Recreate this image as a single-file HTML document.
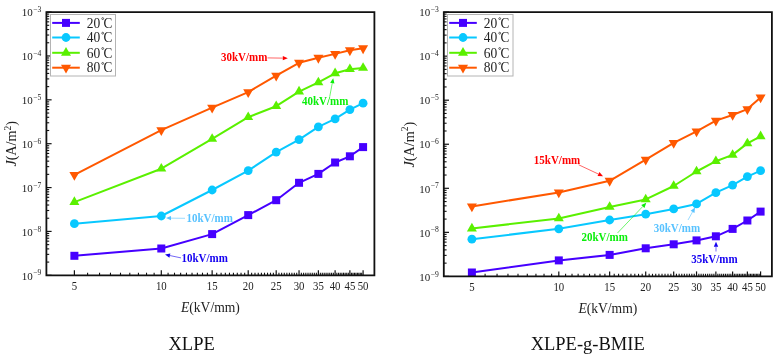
<!DOCTYPE html>
<html><head><meta charset="utf-8"><style>
html,body{margin:0;padding:0;background:#fff;}
svg{display:block;will-change:transform;font-family:"Liberation Serif",serif;}
</style></head><body>
<svg width="778" height="358" viewBox="0 0 778 358">
<rect width="778" height="358" fill="#fff"/>
<line x1="46.40" y1="275.30" x2="51.60" y2="275.30" stroke="#111" stroke-width="1.2"/>
<line x1="46.40" y1="262.09" x2="49.20" y2="262.09" stroke="#111" stroke-width="1.1"/>
<line x1="46.40" y1="254.37" x2="49.20" y2="254.37" stroke="#111" stroke-width="1.1"/>
<line x1="46.40" y1="248.89" x2="49.20" y2="248.89" stroke="#111" stroke-width="1.1"/>
<line x1="46.40" y1="244.64" x2="49.20" y2="244.64" stroke="#111" stroke-width="1.1"/>
<line x1="46.40" y1="241.17" x2="49.20" y2="241.17" stroke="#111" stroke-width="1.1"/>
<line x1="46.40" y1="238.23" x2="49.20" y2="238.23" stroke="#111" stroke-width="1.1"/>
<line x1="46.40" y1="235.68" x2="49.20" y2="235.68" stroke="#111" stroke-width="1.1"/>
<line x1="46.40" y1="233.44" x2="49.20" y2="233.44" stroke="#111" stroke-width="1.1"/>
<text x="32.70" y="279.50" font-size="11" text-anchor="end" fill="#222">10</text>
<text x="33.20" y="275.40" font-size="7.6" fill="#222">−9</text>
<line x1="46.40" y1="231.43" x2="51.60" y2="231.43" stroke="#111" stroke-width="1.2"/>
<line x1="46.40" y1="218.23" x2="49.20" y2="218.23" stroke="#111" stroke-width="1.1"/>
<line x1="46.40" y1="210.50" x2="49.20" y2="210.50" stroke="#111" stroke-width="1.1"/>
<line x1="46.40" y1="205.02" x2="49.20" y2="205.02" stroke="#111" stroke-width="1.1"/>
<line x1="46.40" y1="200.77" x2="49.20" y2="200.77" stroke="#111" stroke-width="1.1"/>
<line x1="46.40" y1="197.30" x2="49.20" y2="197.30" stroke="#111" stroke-width="1.1"/>
<line x1="46.40" y1="194.36" x2="49.20" y2="194.36" stroke="#111" stroke-width="1.1"/>
<line x1="46.40" y1="191.82" x2="49.20" y2="191.82" stroke="#111" stroke-width="1.1"/>
<line x1="46.40" y1="189.57" x2="49.20" y2="189.57" stroke="#111" stroke-width="1.1"/>
<text x="32.70" y="235.63" font-size="11" text-anchor="end" fill="#222">10</text>
<text x="33.20" y="231.53" font-size="7.6" fill="#222">−8</text>
<line x1="46.40" y1="187.57" x2="51.60" y2="187.57" stroke="#111" stroke-width="1.2"/>
<line x1="46.40" y1="174.36" x2="49.20" y2="174.36" stroke="#111" stroke-width="1.1"/>
<line x1="46.40" y1="166.64" x2="49.20" y2="166.64" stroke="#111" stroke-width="1.1"/>
<line x1="46.40" y1="161.16" x2="49.20" y2="161.16" stroke="#111" stroke-width="1.1"/>
<line x1="46.40" y1="156.91" x2="49.20" y2="156.91" stroke="#111" stroke-width="1.1"/>
<line x1="46.40" y1="153.43" x2="49.20" y2="153.43" stroke="#111" stroke-width="1.1"/>
<line x1="46.40" y1="150.50" x2="49.20" y2="150.50" stroke="#111" stroke-width="1.1"/>
<line x1="46.40" y1="147.95" x2="49.20" y2="147.95" stroke="#111" stroke-width="1.1"/>
<line x1="46.40" y1="145.71" x2="49.20" y2="145.71" stroke="#111" stroke-width="1.1"/>
<text x="32.70" y="191.77" font-size="11" text-anchor="end" fill="#222">10</text>
<text x="33.20" y="187.67" font-size="7.6" fill="#222">−7</text>
<line x1="46.40" y1="143.70" x2="51.60" y2="143.70" stroke="#111" stroke-width="1.2"/>
<line x1="46.40" y1="130.49" x2="49.20" y2="130.49" stroke="#111" stroke-width="1.1"/>
<line x1="46.40" y1="122.77" x2="49.20" y2="122.77" stroke="#111" stroke-width="1.1"/>
<line x1="46.40" y1="117.29" x2="49.20" y2="117.29" stroke="#111" stroke-width="1.1"/>
<line x1="46.40" y1="113.04" x2="49.20" y2="113.04" stroke="#111" stroke-width="1.1"/>
<line x1="46.40" y1="109.57" x2="49.20" y2="109.57" stroke="#111" stroke-width="1.1"/>
<line x1="46.40" y1="106.63" x2="49.20" y2="106.63" stroke="#111" stroke-width="1.1"/>
<line x1="46.40" y1="104.08" x2="49.20" y2="104.08" stroke="#111" stroke-width="1.1"/>
<line x1="46.40" y1="101.84" x2="49.20" y2="101.84" stroke="#111" stroke-width="1.1"/>
<text x="32.70" y="147.90" font-size="11" text-anchor="end" fill="#222">10</text>
<text x="33.20" y="143.80" font-size="7.6" fill="#222">−6</text>
<line x1="46.40" y1="99.83" x2="51.60" y2="99.83" stroke="#111" stroke-width="1.2"/>
<line x1="46.40" y1="86.63" x2="49.20" y2="86.63" stroke="#111" stroke-width="1.1"/>
<line x1="46.40" y1="78.90" x2="49.20" y2="78.90" stroke="#111" stroke-width="1.1"/>
<line x1="46.40" y1="73.42" x2="49.20" y2="73.42" stroke="#111" stroke-width="1.1"/>
<line x1="46.40" y1="69.17" x2="49.20" y2="69.17" stroke="#111" stroke-width="1.1"/>
<line x1="46.40" y1="65.70" x2="49.20" y2="65.70" stroke="#111" stroke-width="1.1"/>
<line x1="46.40" y1="62.76" x2="49.20" y2="62.76" stroke="#111" stroke-width="1.1"/>
<line x1="46.40" y1="60.22" x2="49.20" y2="60.22" stroke="#111" stroke-width="1.1"/>
<line x1="46.40" y1="57.97" x2="49.20" y2="57.97" stroke="#111" stroke-width="1.1"/>
<text x="32.70" y="104.03" font-size="11" text-anchor="end" fill="#222">10</text>
<text x="33.20" y="99.93" font-size="7.6" fill="#222">−5</text>
<line x1="46.40" y1="55.97" x2="51.60" y2="55.97" stroke="#111" stroke-width="1.2"/>
<line x1="46.40" y1="42.76" x2="49.20" y2="42.76" stroke="#111" stroke-width="1.1"/>
<line x1="46.40" y1="35.04" x2="49.20" y2="35.04" stroke="#111" stroke-width="1.1"/>
<line x1="46.40" y1="29.56" x2="49.20" y2="29.56" stroke="#111" stroke-width="1.1"/>
<line x1="46.40" y1="25.31" x2="49.20" y2="25.31" stroke="#111" stroke-width="1.1"/>
<line x1="46.40" y1="21.83" x2="49.20" y2="21.83" stroke="#111" stroke-width="1.1"/>
<line x1="46.40" y1="18.90" x2="49.20" y2="18.90" stroke="#111" stroke-width="1.1"/>
<line x1="46.40" y1="16.35" x2="49.20" y2="16.35" stroke="#111" stroke-width="1.1"/>
<line x1="46.40" y1="14.11" x2="49.20" y2="14.11" stroke="#111" stroke-width="1.1"/>
<text x="32.70" y="60.17" font-size="11" text-anchor="end" fill="#222">10</text>
<text x="33.20" y="56.07" font-size="7.6" fill="#222">−4</text>
<line x1="46.40" y1="12.10" x2="51.60" y2="12.10" stroke="#111" stroke-width="1.2"/>
<text x="32.70" y="16.30" font-size="11" text-anchor="end" fill="#222">10</text>
<text x="33.20" y="12.20" font-size="7.6" fill="#222">−3</text>
<line x1="74.39" y1="275.30" x2="74.39" y2="270.30" stroke="#111" stroke-width="1.2"/>
<text transform="translate(74.39,289.90) scale(1,1.12)" font-size="10.8" text-anchor="middle" fill="#222">5</text>
<line x1="87.60" y1="275.30" x2="87.60" y2="272.70" stroke="#111" stroke-width="1.1"/>
<line x1="99.55" y1="275.30" x2="99.55" y2="272.70" stroke="#111" stroke-width="1.1"/>
<line x1="110.46" y1="275.30" x2="110.46" y2="272.70" stroke="#111" stroke-width="1.1"/>
<line x1="120.50" y1="275.30" x2="120.50" y2="272.70" stroke="#111" stroke-width="1.1"/>
<line x1="129.79" y1="275.30" x2="129.79" y2="272.70" stroke="#111" stroke-width="1.1"/>
<line x1="138.44" y1="275.30" x2="138.44" y2="272.70" stroke="#111" stroke-width="1.1"/>
<line x1="146.53" y1="275.30" x2="146.53" y2="272.70" stroke="#111" stroke-width="1.1"/>
<line x1="154.13" y1="275.30" x2="154.13" y2="272.70" stroke="#111" stroke-width="1.1"/>
<line x1="161.30" y1="275.30" x2="161.30" y2="270.30" stroke="#111" stroke-width="1.2"/>
<text transform="translate(161.30,289.90) scale(1,1.12)" font-size="10.8" text-anchor="middle" fill="#222">10</text>
<line x1="168.08" y1="275.30" x2="168.08" y2="272.70" stroke="#111" stroke-width="1.1"/>
<line x1="174.51" y1="275.30" x2="174.51" y2="272.70" stroke="#111" stroke-width="1.1"/>
<line x1="180.63" y1="275.30" x2="180.63" y2="272.70" stroke="#111" stroke-width="1.1"/>
<line x1="186.46" y1="275.30" x2="186.46" y2="272.70" stroke="#111" stroke-width="1.1"/>
<line x1="192.03" y1="275.30" x2="192.03" y2="272.70" stroke="#111" stroke-width="1.1"/>
<line x1="197.37" y1="275.30" x2="197.37" y2="272.70" stroke="#111" stroke-width="1.1"/>
<line x1="202.49" y1="275.30" x2="202.49" y2="272.70" stroke="#111" stroke-width="1.1"/>
<line x1="207.41" y1="275.30" x2="207.41" y2="272.70" stroke="#111" stroke-width="1.1"/>
<line x1="212.14" y1="275.30" x2="212.14" y2="270.30" stroke="#111" stroke-width="1.2"/>
<text transform="translate(212.14,289.90) scale(1,1.12)" font-size="10.8" text-anchor="middle" fill="#222">15</text>
<line x1="216.70" y1="275.30" x2="216.70" y2="272.70" stroke="#111" stroke-width="1.1"/>
<line x1="221.10" y1="275.30" x2="221.10" y2="272.70" stroke="#111" stroke-width="1.1"/>
<line x1="225.35" y1="275.30" x2="225.35" y2="272.70" stroke="#111" stroke-width="1.1"/>
<line x1="229.46" y1="275.30" x2="229.46" y2="272.70" stroke="#111" stroke-width="1.1"/>
<line x1="233.44" y1="275.30" x2="233.44" y2="272.70" stroke="#111" stroke-width="1.1"/>
<line x1="237.30" y1="275.30" x2="237.30" y2="272.70" stroke="#111" stroke-width="1.1"/>
<line x1="241.04" y1="275.30" x2="241.04" y2="272.70" stroke="#111" stroke-width="1.1"/>
<line x1="244.68" y1="275.30" x2="244.68" y2="272.70" stroke="#111" stroke-width="1.1"/>
<line x1="248.21" y1="275.30" x2="248.21" y2="270.30" stroke="#111" stroke-width="1.2"/>
<text transform="translate(248.21,289.90) scale(1,1.12)" font-size="10.8" text-anchor="middle" fill="#222">20</text>
<line x1="251.64" y1="275.30" x2="251.64" y2="272.70" stroke="#111" stroke-width="1.1"/>
<line x1="254.99" y1="275.30" x2="254.99" y2="272.70" stroke="#111" stroke-width="1.1"/>
<line x1="258.24" y1="275.30" x2="258.24" y2="272.70" stroke="#111" stroke-width="1.1"/>
<line x1="261.42" y1="275.30" x2="261.42" y2="272.70" stroke="#111" stroke-width="1.1"/>
<line x1="264.51" y1="275.30" x2="264.51" y2="272.70" stroke="#111" stroke-width="1.1"/>
<line x1="267.53" y1="275.30" x2="267.53" y2="272.70" stroke="#111" stroke-width="1.1"/>
<line x1="270.49" y1="275.30" x2="270.49" y2="272.70" stroke="#111" stroke-width="1.1"/>
<line x1="273.37" y1="275.30" x2="273.37" y2="272.70" stroke="#111" stroke-width="1.1"/>
<line x1="276.19" y1="275.30" x2="276.19" y2="270.30" stroke="#111" stroke-width="1.2"/>
<text transform="translate(276.19,289.90) scale(1,1.12)" font-size="10.8" text-anchor="middle" fill="#222">25</text>
<line x1="278.94" y1="275.30" x2="278.94" y2="272.70" stroke="#111" stroke-width="1.1"/>
<line x1="281.64" y1="275.30" x2="281.64" y2="272.70" stroke="#111" stroke-width="1.1"/>
<line x1="284.28" y1="275.30" x2="284.28" y2="272.70" stroke="#111" stroke-width="1.1"/>
<line x1="286.86" y1="275.30" x2="286.86" y2="272.70" stroke="#111" stroke-width="1.1"/>
<line x1="289.40" y1="275.30" x2="289.40" y2="272.70" stroke="#111" stroke-width="1.1"/>
<line x1="291.88" y1="275.30" x2="291.88" y2="272.70" stroke="#111" stroke-width="1.1"/>
<line x1="294.31" y1="275.30" x2="294.31" y2="272.70" stroke="#111" stroke-width="1.1"/>
<line x1="296.70" y1="275.30" x2="296.70" y2="272.70" stroke="#111" stroke-width="1.1"/>
<line x1="299.04" y1="275.30" x2="299.04" y2="270.30" stroke="#111" stroke-width="1.2"/>
<text transform="translate(299.04,289.90) scale(1,1.12)" font-size="10.8" text-anchor="middle" fill="#222">30</text>
<line x1="301.35" y1="275.30" x2="301.35" y2="272.70" stroke="#111" stroke-width="1.1"/>
<line x1="303.60" y1="275.30" x2="303.60" y2="272.70" stroke="#111" stroke-width="1.1"/>
<line x1="305.82" y1="275.30" x2="305.82" y2="272.70" stroke="#111" stroke-width="1.1"/>
<line x1="308.00" y1="275.30" x2="308.00" y2="272.70" stroke="#111" stroke-width="1.1"/>
<line x1="310.15" y1="275.30" x2="310.15" y2="272.70" stroke="#111" stroke-width="1.1"/>
<line x1="312.26" y1="275.30" x2="312.26" y2="272.70" stroke="#111" stroke-width="1.1"/>
<line x1="314.33" y1="275.30" x2="314.33" y2="272.70" stroke="#111" stroke-width="1.1"/>
<line x1="316.37" y1="275.30" x2="316.37" y2="272.70" stroke="#111" stroke-width="1.1"/>
<line x1="318.37" y1="275.30" x2="318.37" y2="270.30" stroke="#111" stroke-width="1.2"/>
<text transform="translate(318.37,289.90) scale(1,1.12)" font-size="10.8" text-anchor="middle" fill="#222">35</text>
<line x1="320.35" y1="275.30" x2="320.35" y2="272.70" stroke="#111" stroke-width="1.1"/>
<line x1="322.29" y1="275.30" x2="322.29" y2="272.70" stroke="#111" stroke-width="1.1"/>
<line x1="324.21" y1="275.30" x2="324.21" y2="272.70" stroke="#111" stroke-width="1.1"/>
<line x1="326.09" y1="275.30" x2="326.09" y2="272.70" stroke="#111" stroke-width="1.1"/>
<line x1="327.95" y1="275.30" x2="327.95" y2="272.70" stroke="#111" stroke-width="1.1"/>
<line x1="329.78" y1="275.30" x2="329.78" y2="272.70" stroke="#111" stroke-width="1.1"/>
<line x1="331.58" y1="275.30" x2="331.58" y2="272.70" stroke="#111" stroke-width="1.1"/>
<line x1="333.36" y1="275.30" x2="333.36" y2="272.70" stroke="#111" stroke-width="1.1"/>
<line x1="335.11" y1="275.30" x2="335.11" y2="270.30" stroke="#111" stroke-width="1.2"/>
<text transform="translate(335.11,289.90) scale(1,1.12)" font-size="10.8" text-anchor="middle" fill="#222">40</text>
<line x1="336.84" y1="275.30" x2="336.84" y2="272.70" stroke="#111" stroke-width="1.1"/>
<line x1="338.55" y1="275.30" x2="338.55" y2="272.70" stroke="#111" stroke-width="1.1"/>
<line x1="340.23" y1="275.30" x2="340.23" y2="272.70" stroke="#111" stroke-width="1.1"/>
<line x1="341.89" y1="275.30" x2="341.89" y2="272.70" stroke="#111" stroke-width="1.1"/>
<line x1="343.53" y1="275.30" x2="343.53" y2="272.70" stroke="#111" stroke-width="1.1"/>
<line x1="345.15" y1="275.30" x2="345.15" y2="272.70" stroke="#111" stroke-width="1.1"/>
<line x1="346.75" y1="275.30" x2="346.75" y2="272.70" stroke="#111" stroke-width="1.1"/>
<line x1="348.32" y1="275.30" x2="348.32" y2="272.70" stroke="#111" stroke-width="1.1"/>
<line x1="349.88" y1="275.30" x2="349.88" y2="270.30" stroke="#111" stroke-width="1.2"/>
<text transform="translate(349.88,289.90) scale(1,1.12)" font-size="10.8" text-anchor="middle" fill="#222">45</text>
<line x1="351.42" y1="275.30" x2="351.42" y2="272.70" stroke="#111" stroke-width="1.1"/>
<line x1="352.94" y1="275.30" x2="352.94" y2="272.70" stroke="#111" stroke-width="1.1"/>
<line x1="354.44" y1="275.30" x2="354.44" y2="272.70" stroke="#111" stroke-width="1.1"/>
<line x1="355.93" y1="275.30" x2="355.93" y2="272.70" stroke="#111" stroke-width="1.1"/>
<line x1="357.39" y1="275.30" x2="357.39" y2="272.70" stroke="#111" stroke-width="1.1"/>
<line x1="358.84" y1="275.30" x2="358.84" y2="272.70" stroke="#111" stroke-width="1.1"/>
<line x1="360.27" y1="275.30" x2="360.27" y2="272.70" stroke="#111" stroke-width="1.1"/>
<line x1="361.69" y1="275.30" x2="361.69" y2="272.70" stroke="#111" stroke-width="1.1"/>
<line x1="363.09" y1="275.30" x2="363.09" y2="270.30" stroke="#111" stroke-width="1.2"/>
<text transform="translate(363.09,289.90) scale(1,1.12)" font-size="10.8" text-anchor="middle" fill="#222">50</text>
<polyline points="74.39,174.90 161.30,130.10 212.14,107.60 248.21,92.10 276.19,75.70 299.04,62.80 318.37,57.80 335.11,53.90 349.88,50.30 363.09,48.30" fill="none" stroke="#ff5800" stroke-width="2" stroke-linejoin="round"/>
<polyline points="74.39,202.10 161.30,168.70 212.14,138.90 248.21,117.20 276.19,106.20 299.04,91.60 318.37,82.40 335.11,73.30 349.88,69.20 363.09,67.90" fill="none" stroke="#5af000" stroke-width="2" stroke-linejoin="round"/>
<polyline points="74.39,223.70 161.30,216.00 212.14,190.00 248.21,170.60 276.19,152.10 299.04,139.60 318.37,126.80 335.11,118.90 349.88,109.60 363.09,103.20" fill="none" stroke="#08c8ff" stroke-width="2" stroke-linejoin="round"/>
<polyline points="74.39,255.80 161.30,248.50 212.14,234.10 248.21,215.10 276.19,200.20 299.04,182.80 318.37,173.90 335.11,162.50 349.88,156.30 363.09,147.10" fill="none" stroke="#4600ff" stroke-width="2" stroke-linejoin="round"/>
<polygon points="69.39,171.97 79.39,171.97 74.39,180.77" fill="#ff5800"/>
<polygon points="156.30,127.17 166.30,127.17 161.30,135.97" fill="#ff5800"/>
<polygon points="207.14,104.67 217.14,104.67 212.14,113.47" fill="#ff5800"/>
<polygon points="243.21,89.17 253.21,89.17 248.21,97.97" fill="#ff5800"/>
<polygon points="271.19,72.77 281.19,72.77 276.19,81.57" fill="#ff5800"/>
<polygon points="294.04,59.87 304.04,59.87 299.04,68.67" fill="#ff5800"/>
<polygon points="313.37,54.87 323.37,54.87 318.37,63.67" fill="#ff5800"/>
<polygon points="330.11,50.97 340.11,50.97 335.11,59.77" fill="#ff5800"/>
<polygon points="344.88,47.37 354.88,47.37 349.88,56.17" fill="#ff5800"/>
<polygon points="358.09,45.37 368.09,45.37 363.09,54.17" fill="#ff5800"/>
<polygon points="74.39,196.37 79.39,204.97 69.39,204.97" fill="#5af000"/>
<polygon points="161.30,162.97 166.30,171.57 156.30,171.57" fill="#5af000"/>
<polygon points="212.14,133.17 217.14,141.77 207.14,141.77" fill="#5af000"/>
<polygon points="248.21,111.47 253.21,120.07 243.21,120.07" fill="#5af000"/>
<polygon points="276.19,100.47 281.19,109.07 271.19,109.07" fill="#5af000"/>
<polygon points="299.04,85.87 304.04,94.47 294.04,94.47" fill="#5af000"/>
<polygon points="318.37,76.67 323.37,85.27 313.37,85.27" fill="#5af000"/>
<polygon points="335.11,67.57 340.11,76.17 330.11,76.17" fill="#5af000"/>
<polygon points="349.88,63.47 354.88,72.07 344.88,72.07" fill="#5af000"/>
<polygon points="363.09,62.17 368.09,70.77 358.09,70.77" fill="#5af000"/>
<circle cx="74.39" cy="223.70" r="4.4" fill="#08c8ff"/>
<circle cx="161.30" cy="216.00" r="4.4" fill="#08c8ff"/>
<circle cx="212.14" cy="190.00" r="4.4" fill="#08c8ff"/>
<circle cx="248.21" cy="170.60" r="4.4" fill="#08c8ff"/>
<circle cx="276.19" cy="152.10" r="4.4" fill="#08c8ff"/>
<circle cx="299.04" cy="139.60" r="4.4" fill="#08c8ff"/>
<circle cx="318.37" cy="126.80" r="4.4" fill="#08c8ff"/>
<circle cx="335.11" cy="118.90" r="4.4" fill="#08c8ff"/>
<circle cx="349.88" cy="109.60" r="4.4" fill="#08c8ff"/>
<circle cx="363.09" cy="103.20" r="4.4" fill="#08c8ff"/>
<rect x="70.39" y="251.80" width="8" height="8" fill="#4600ff"/>
<rect x="157.30" y="244.50" width="8" height="8" fill="#4600ff"/>
<rect x="208.14" y="230.10" width="8" height="8" fill="#4600ff"/>
<rect x="244.21" y="211.10" width="8" height="8" fill="#4600ff"/>
<rect x="272.19" y="196.20" width="8" height="8" fill="#4600ff"/>
<rect x="295.04" y="178.80" width="8" height="8" fill="#4600ff"/>
<rect x="314.37" y="169.90" width="8" height="8" fill="#4600ff"/>
<rect x="331.11" y="158.50" width="8" height="8" fill="#4600ff"/>
<rect x="345.88" y="152.30" width="8" height="8" fill="#4600ff"/>
<rect x="359.09" y="143.10" width="8" height="8" fill="#4600ff"/>
<rect x="50.50" y="14.50" width="65.00" height="61.50" fill="#fff" stroke="#b4b4b4" stroke-width="1"/>
<line x1="52.20" y1="22.90" x2="79.80" y2="22.90" stroke="#4600ff" stroke-width="2"/>
<rect x="62.00" y="18.90" width="8" height="8" fill="#4600ff"/>
<text transform="translate(86.70,27.60) scale(1,1.08)" font-size="13.5" fill="#222">20</text>
<circle cx="102.70" cy="18.60" r="0.95" fill="none" stroke="#222" stroke-width="0.7"/>
<text x="103.60" y="27.60" font-size="15.5" textLength="8.8" lengthAdjust="spacingAndGlyphs" fill="#222">C</text>
<line x1="52.20" y1="37.50" x2="79.80" y2="37.50" stroke="#08c8ff" stroke-width="2"/>
<circle cx="66.00" cy="37.50" r="4.4" fill="#08c8ff"/>
<text transform="translate(86.70,42.20) scale(1,1.08)" font-size="13.5" fill="#222">40</text>
<circle cx="102.70" cy="33.20" r="0.95" fill="none" stroke="#222" stroke-width="0.7"/>
<text x="103.60" y="42.20" font-size="15.5" textLength="8.8" lengthAdjust="spacingAndGlyphs" fill="#222">C</text>
<line x1="52.20" y1="52.80" x2="79.80" y2="52.80" stroke="#5af000" stroke-width="2"/>
<polygon points="66.00,47.07 71.00,55.67 61.00,55.67" fill="#5af000"/>
<text transform="translate(86.70,57.50) scale(1,1.08)" font-size="13.5" fill="#222">60</text>
<circle cx="102.70" cy="48.50" r="0.95" fill="none" stroke="#222" stroke-width="0.7"/>
<text x="103.60" y="57.50" font-size="15.5" textLength="8.8" lengthAdjust="spacingAndGlyphs" fill="#222">C</text>
<line x1="52.20" y1="67.70" x2="79.80" y2="67.70" stroke="#ff5800" stroke-width="2"/>
<polygon points="61.00,64.77 71.00,64.77 66.00,73.57" fill="#ff5800"/>
<text transform="translate(86.70,72.40) scale(1,1.08)" font-size="13.5" fill="#222">80</text>
<circle cx="102.70" cy="63.40" r="0.95" fill="none" stroke="#222" stroke-width="0.7"/>
<text x="103.60" y="72.40" font-size="15.5" textLength="8.8" lengthAdjust="spacingAndGlyphs" fill="#222">C</text>
<path d="M46.40,275.30 V12.10 H374.40 V275.30 Z" fill="none" stroke="#111" stroke-width="1.8"/>
<text x="210.40" y="312.30" font-size="13.6" text-anchor="middle" fill="#222"><tspan font-style="italic">E</tspan>(kV/mm)</text>
<text transform="translate(16.30,166.60) rotate(-90)" font-size="14.2" textLength="45.5" lengthAdjust="spacingAndGlyphs" fill="#222"><tspan font-style="italic">J</tspan>(A/m<tspan font-size="9.5" dy="-5.5">2</tspan><tspan dy="5.5">)</tspan></text>
<text x="191.60" y="349.8" font-size="18.5" text-anchor="middle" fill="#111">XLPE</text>
<line x1="443.80" y1="276.40" x2="449.00" y2="276.40" stroke="#111" stroke-width="1.2"/>
<line x1="443.80" y1="263.14" x2="446.60" y2="263.14" stroke="#111" stroke-width="1.1"/>
<line x1="443.80" y1="255.38" x2="446.60" y2="255.38" stroke="#111" stroke-width="1.1"/>
<line x1="443.80" y1="249.88" x2="446.60" y2="249.88" stroke="#111" stroke-width="1.1"/>
<line x1="443.80" y1="245.61" x2="446.60" y2="245.61" stroke="#111" stroke-width="1.1"/>
<line x1="443.80" y1="242.12" x2="446.60" y2="242.12" stroke="#111" stroke-width="1.1"/>
<line x1="443.80" y1="239.17" x2="446.60" y2="239.17" stroke="#111" stroke-width="1.1"/>
<line x1="443.80" y1="236.62" x2="446.60" y2="236.62" stroke="#111" stroke-width="1.1"/>
<line x1="443.80" y1="234.37" x2="446.60" y2="234.37" stroke="#111" stroke-width="1.1"/>
<text x="430.20" y="280.60" font-size="11" text-anchor="end" fill="#222">10</text>
<text x="430.70" y="276.50" font-size="7.6" fill="#222">−9</text>
<line x1="443.80" y1="232.35" x2="449.00" y2="232.35" stroke="#111" stroke-width="1.2"/>
<line x1="443.80" y1="219.09" x2="446.60" y2="219.09" stroke="#111" stroke-width="1.1"/>
<line x1="443.80" y1="211.33" x2="446.60" y2="211.33" stroke="#111" stroke-width="1.1"/>
<line x1="443.80" y1="205.83" x2="446.60" y2="205.83" stroke="#111" stroke-width="1.1"/>
<line x1="443.80" y1="201.56" x2="446.60" y2="201.56" stroke="#111" stroke-width="1.1"/>
<line x1="443.80" y1="198.07" x2="446.60" y2="198.07" stroke="#111" stroke-width="1.1"/>
<line x1="443.80" y1="195.12" x2="446.60" y2="195.12" stroke="#111" stroke-width="1.1"/>
<line x1="443.80" y1="192.57" x2="446.60" y2="192.57" stroke="#111" stroke-width="1.1"/>
<line x1="443.80" y1="190.32" x2="446.60" y2="190.32" stroke="#111" stroke-width="1.1"/>
<text x="430.20" y="236.55" font-size="11" text-anchor="end" fill="#222">10</text>
<text x="430.70" y="232.45" font-size="7.6" fill="#222">−8</text>
<line x1="443.80" y1="188.30" x2="449.00" y2="188.30" stroke="#111" stroke-width="1.2"/>
<line x1="443.80" y1="175.04" x2="446.60" y2="175.04" stroke="#111" stroke-width="1.1"/>
<line x1="443.80" y1="167.28" x2="446.60" y2="167.28" stroke="#111" stroke-width="1.1"/>
<line x1="443.80" y1="161.78" x2="446.60" y2="161.78" stroke="#111" stroke-width="1.1"/>
<line x1="443.80" y1="157.51" x2="446.60" y2="157.51" stroke="#111" stroke-width="1.1"/>
<line x1="443.80" y1="154.02" x2="446.60" y2="154.02" stroke="#111" stroke-width="1.1"/>
<line x1="443.80" y1="151.07" x2="446.60" y2="151.07" stroke="#111" stroke-width="1.1"/>
<line x1="443.80" y1="148.52" x2="446.60" y2="148.52" stroke="#111" stroke-width="1.1"/>
<line x1="443.80" y1="146.27" x2="446.60" y2="146.27" stroke="#111" stroke-width="1.1"/>
<text x="430.20" y="192.50" font-size="11" text-anchor="end" fill="#222">10</text>
<text x="430.70" y="188.40" font-size="7.6" fill="#222">−7</text>
<line x1="443.80" y1="144.25" x2="449.00" y2="144.25" stroke="#111" stroke-width="1.2"/>
<line x1="443.80" y1="130.99" x2="446.60" y2="130.99" stroke="#111" stroke-width="1.1"/>
<line x1="443.80" y1="123.23" x2="446.60" y2="123.23" stroke="#111" stroke-width="1.1"/>
<line x1="443.80" y1="117.73" x2="446.60" y2="117.73" stroke="#111" stroke-width="1.1"/>
<line x1="443.80" y1="113.46" x2="446.60" y2="113.46" stroke="#111" stroke-width="1.1"/>
<line x1="443.80" y1="109.97" x2="446.60" y2="109.97" stroke="#111" stroke-width="1.1"/>
<line x1="443.80" y1="107.02" x2="446.60" y2="107.02" stroke="#111" stroke-width="1.1"/>
<line x1="443.80" y1="104.47" x2="446.60" y2="104.47" stroke="#111" stroke-width="1.1"/>
<line x1="443.80" y1="102.22" x2="446.60" y2="102.22" stroke="#111" stroke-width="1.1"/>
<text x="430.20" y="148.45" font-size="11" text-anchor="end" fill="#222">10</text>
<text x="430.70" y="144.35" font-size="7.6" fill="#222">−6</text>
<line x1="443.80" y1="100.20" x2="449.00" y2="100.20" stroke="#111" stroke-width="1.2"/>
<line x1="443.80" y1="86.94" x2="446.60" y2="86.94" stroke="#111" stroke-width="1.1"/>
<line x1="443.80" y1="79.18" x2="446.60" y2="79.18" stroke="#111" stroke-width="1.1"/>
<line x1="443.80" y1="73.68" x2="446.60" y2="73.68" stroke="#111" stroke-width="1.1"/>
<line x1="443.80" y1="69.41" x2="446.60" y2="69.41" stroke="#111" stroke-width="1.1"/>
<line x1="443.80" y1="65.92" x2="446.60" y2="65.92" stroke="#111" stroke-width="1.1"/>
<line x1="443.80" y1="62.97" x2="446.60" y2="62.97" stroke="#111" stroke-width="1.1"/>
<line x1="443.80" y1="60.42" x2="446.60" y2="60.42" stroke="#111" stroke-width="1.1"/>
<line x1="443.80" y1="58.17" x2="446.60" y2="58.17" stroke="#111" stroke-width="1.1"/>
<text x="430.20" y="104.40" font-size="11" text-anchor="end" fill="#222">10</text>
<text x="430.70" y="100.30" font-size="7.6" fill="#222">−5</text>
<line x1="443.80" y1="56.15" x2="449.00" y2="56.15" stroke="#111" stroke-width="1.2"/>
<line x1="443.80" y1="42.89" x2="446.60" y2="42.89" stroke="#111" stroke-width="1.1"/>
<line x1="443.80" y1="35.13" x2="446.60" y2="35.13" stroke="#111" stroke-width="1.1"/>
<line x1="443.80" y1="29.63" x2="446.60" y2="29.63" stroke="#111" stroke-width="1.1"/>
<line x1="443.80" y1="25.36" x2="446.60" y2="25.36" stroke="#111" stroke-width="1.1"/>
<line x1="443.80" y1="21.87" x2="446.60" y2="21.87" stroke="#111" stroke-width="1.1"/>
<line x1="443.80" y1="18.92" x2="446.60" y2="18.92" stroke="#111" stroke-width="1.1"/>
<line x1="443.80" y1="16.37" x2="446.60" y2="16.37" stroke="#111" stroke-width="1.1"/>
<line x1="443.80" y1="14.12" x2="446.60" y2="14.12" stroke="#111" stroke-width="1.1"/>
<text x="430.20" y="60.35" font-size="11" text-anchor="end" fill="#222">10</text>
<text x="430.70" y="56.25" font-size="7.6" fill="#222">−4</text>
<line x1="443.80" y1="12.10" x2="449.00" y2="12.10" stroke="#111" stroke-width="1.2"/>
<text x="430.20" y="16.30" font-size="11" text-anchor="end" fill="#222">10</text>
<text x="430.70" y="12.20" font-size="7.6" fill="#222">−3</text>
<line x1="471.89" y1="276.40" x2="471.89" y2="271.40" stroke="#111" stroke-width="1.2"/>
<text transform="translate(471.89,291.00) scale(1,1.12)" font-size="10.8" text-anchor="middle" fill="#222">5</text>
<line x1="485.10" y1="276.40" x2="485.10" y2="273.80" stroke="#111" stroke-width="1.1"/>
<line x1="497.05" y1="276.40" x2="497.05" y2="273.80" stroke="#111" stroke-width="1.1"/>
<line x1="507.96" y1="276.40" x2="507.96" y2="273.80" stroke="#111" stroke-width="1.1"/>
<line x1="518.00" y1="276.40" x2="518.00" y2="273.80" stroke="#111" stroke-width="1.1"/>
<line x1="527.29" y1="276.40" x2="527.29" y2="273.80" stroke="#111" stroke-width="1.1"/>
<line x1="535.94" y1="276.40" x2="535.94" y2="273.80" stroke="#111" stroke-width="1.1"/>
<line x1="544.03" y1="276.40" x2="544.03" y2="273.80" stroke="#111" stroke-width="1.1"/>
<line x1="551.63" y1="276.40" x2="551.63" y2="273.80" stroke="#111" stroke-width="1.1"/>
<line x1="558.80" y1="276.40" x2="558.80" y2="271.40" stroke="#111" stroke-width="1.2"/>
<text transform="translate(558.80,291.00) scale(1,1.12)" font-size="10.8" text-anchor="middle" fill="#222">10</text>
<line x1="565.58" y1="276.40" x2="565.58" y2="273.80" stroke="#111" stroke-width="1.1"/>
<line x1="572.01" y1="276.40" x2="572.01" y2="273.80" stroke="#111" stroke-width="1.1"/>
<line x1="578.13" y1="276.40" x2="578.13" y2="273.80" stroke="#111" stroke-width="1.1"/>
<line x1="583.96" y1="276.40" x2="583.96" y2="273.80" stroke="#111" stroke-width="1.1"/>
<line x1="589.53" y1="276.40" x2="589.53" y2="273.80" stroke="#111" stroke-width="1.1"/>
<line x1="594.87" y1="276.40" x2="594.87" y2="273.80" stroke="#111" stroke-width="1.1"/>
<line x1="599.99" y1="276.40" x2="599.99" y2="273.80" stroke="#111" stroke-width="1.1"/>
<line x1="604.91" y1="276.40" x2="604.91" y2="273.80" stroke="#111" stroke-width="1.1"/>
<line x1="609.64" y1="276.40" x2="609.64" y2="271.40" stroke="#111" stroke-width="1.2"/>
<text transform="translate(609.64,291.00) scale(1,1.12)" font-size="10.8" text-anchor="middle" fill="#222">15</text>
<line x1="614.20" y1="276.40" x2="614.20" y2="273.80" stroke="#111" stroke-width="1.1"/>
<line x1="618.60" y1="276.40" x2="618.60" y2="273.80" stroke="#111" stroke-width="1.1"/>
<line x1="622.85" y1="276.40" x2="622.85" y2="273.80" stroke="#111" stroke-width="1.1"/>
<line x1="626.96" y1="276.40" x2="626.96" y2="273.80" stroke="#111" stroke-width="1.1"/>
<line x1="630.94" y1="276.40" x2="630.94" y2="273.80" stroke="#111" stroke-width="1.1"/>
<line x1="634.80" y1="276.40" x2="634.80" y2="273.80" stroke="#111" stroke-width="1.1"/>
<line x1="638.54" y1="276.40" x2="638.54" y2="273.80" stroke="#111" stroke-width="1.1"/>
<line x1="642.18" y1="276.40" x2="642.18" y2="273.80" stroke="#111" stroke-width="1.1"/>
<line x1="645.71" y1="276.40" x2="645.71" y2="271.40" stroke="#111" stroke-width="1.2"/>
<text transform="translate(645.71,291.00) scale(1,1.12)" font-size="10.8" text-anchor="middle" fill="#222">20</text>
<line x1="649.14" y1="276.40" x2="649.14" y2="273.80" stroke="#111" stroke-width="1.1"/>
<line x1="652.49" y1="276.40" x2="652.49" y2="273.80" stroke="#111" stroke-width="1.1"/>
<line x1="655.74" y1="276.40" x2="655.74" y2="273.80" stroke="#111" stroke-width="1.1"/>
<line x1="658.92" y1="276.40" x2="658.92" y2="273.80" stroke="#111" stroke-width="1.1"/>
<line x1="662.01" y1="276.40" x2="662.01" y2="273.80" stroke="#111" stroke-width="1.1"/>
<line x1="665.03" y1="276.40" x2="665.03" y2="273.80" stroke="#111" stroke-width="1.1"/>
<line x1="667.99" y1="276.40" x2="667.99" y2="273.80" stroke="#111" stroke-width="1.1"/>
<line x1="670.87" y1="276.40" x2="670.87" y2="273.80" stroke="#111" stroke-width="1.1"/>
<line x1="673.69" y1="276.40" x2="673.69" y2="271.40" stroke="#111" stroke-width="1.2"/>
<text transform="translate(673.69,291.00) scale(1,1.12)" font-size="10.8" text-anchor="middle" fill="#222">25</text>
<line x1="676.44" y1="276.40" x2="676.44" y2="273.80" stroke="#111" stroke-width="1.1"/>
<line x1="679.14" y1="276.40" x2="679.14" y2="273.80" stroke="#111" stroke-width="1.1"/>
<line x1="681.78" y1="276.40" x2="681.78" y2="273.80" stroke="#111" stroke-width="1.1"/>
<line x1="684.36" y1="276.40" x2="684.36" y2="273.80" stroke="#111" stroke-width="1.1"/>
<line x1="686.90" y1="276.40" x2="686.90" y2="273.80" stroke="#111" stroke-width="1.1"/>
<line x1="689.38" y1="276.40" x2="689.38" y2="273.80" stroke="#111" stroke-width="1.1"/>
<line x1="691.81" y1="276.40" x2="691.81" y2="273.80" stroke="#111" stroke-width="1.1"/>
<line x1="694.20" y1="276.40" x2="694.20" y2="273.80" stroke="#111" stroke-width="1.1"/>
<line x1="696.54" y1="276.40" x2="696.54" y2="271.40" stroke="#111" stroke-width="1.2"/>
<text transform="translate(696.54,291.00) scale(1,1.12)" font-size="10.8" text-anchor="middle" fill="#222">30</text>
<line x1="698.85" y1="276.40" x2="698.85" y2="273.80" stroke="#111" stroke-width="1.1"/>
<line x1="701.10" y1="276.40" x2="701.10" y2="273.80" stroke="#111" stroke-width="1.1"/>
<line x1="703.32" y1="276.40" x2="703.32" y2="273.80" stroke="#111" stroke-width="1.1"/>
<line x1="705.50" y1="276.40" x2="705.50" y2="273.80" stroke="#111" stroke-width="1.1"/>
<line x1="707.65" y1="276.40" x2="707.65" y2="273.80" stroke="#111" stroke-width="1.1"/>
<line x1="709.76" y1="276.40" x2="709.76" y2="273.80" stroke="#111" stroke-width="1.1"/>
<line x1="711.83" y1="276.40" x2="711.83" y2="273.80" stroke="#111" stroke-width="1.1"/>
<line x1="713.87" y1="276.40" x2="713.87" y2="273.80" stroke="#111" stroke-width="1.1"/>
<line x1="715.87" y1="276.40" x2="715.87" y2="271.40" stroke="#111" stroke-width="1.2"/>
<text transform="translate(715.87,291.00) scale(1,1.12)" font-size="10.8" text-anchor="middle" fill="#222">35</text>
<line x1="717.85" y1="276.40" x2="717.85" y2="273.80" stroke="#111" stroke-width="1.1"/>
<line x1="719.79" y1="276.40" x2="719.79" y2="273.80" stroke="#111" stroke-width="1.1"/>
<line x1="721.71" y1="276.40" x2="721.71" y2="273.80" stroke="#111" stroke-width="1.1"/>
<line x1="723.59" y1="276.40" x2="723.59" y2="273.80" stroke="#111" stroke-width="1.1"/>
<line x1="725.45" y1="276.40" x2="725.45" y2="273.80" stroke="#111" stroke-width="1.1"/>
<line x1="727.28" y1="276.40" x2="727.28" y2="273.80" stroke="#111" stroke-width="1.1"/>
<line x1="729.08" y1="276.40" x2="729.08" y2="273.80" stroke="#111" stroke-width="1.1"/>
<line x1="730.86" y1="276.40" x2="730.86" y2="273.80" stroke="#111" stroke-width="1.1"/>
<line x1="732.61" y1="276.40" x2="732.61" y2="271.40" stroke="#111" stroke-width="1.2"/>
<text transform="translate(732.61,291.00) scale(1,1.12)" font-size="10.8" text-anchor="middle" fill="#222">40</text>
<line x1="734.34" y1="276.40" x2="734.34" y2="273.80" stroke="#111" stroke-width="1.1"/>
<line x1="736.05" y1="276.40" x2="736.05" y2="273.80" stroke="#111" stroke-width="1.1"/>
<line x1="737.73" y1="276.40" x2="737.73" y2="273.80" stroke="#111" stroke-width="1.1"/>
<line x1="739.39" y1="276.40" x2="739.39" y2="273.80" stroke="#111" stroke-width="1.1"/>
<line x1="741.03" y1="276.40" x2="741.03" y2="273.80" stroke="#111" stroke-width="1.1"/>
<line x1="742.65" y1="276.40" x2="742.65" y2="273.80" stroke="#111" stroke-width="1.1"/>
<line x1="744.25" y1="276.40" x2="744.25" y2="273.80" stroke="#111" stroke-width="1.1"/>
<line x1="745.82" y1="276.40" x2="745.82" y2="273.80" stroke="#111" stroke-width="1.1"/>
<line x1="747.38" y1="276.40" x2="747.38" y2="271.40" stroke="#111" stroke-width="1.2"/>
<text transform="translate(747.38,291.00) scale(1,1.12)" font-size="10.8" text-anchor="middle" fill="#222">45</text>
<line x1="748.92" y1="276.40" x2="748.92" y2="273.80" stroke="#111" stroke-width="1.1"/>
<line x1="750.44" y1="276.40" x2="750.44" y2="273.80" stroke="#111" stroke-width="1.1"/>
<line x1="751.94" y1="276.40" x2="751.94" y2="273.80" stroke="#111" stroke-width="1.1"/>
<line x1="753.43" y1="276.40" x2="753.43" y2="273.80" stroke="#111" stroke-width="1.1"/>
<line x1="754.89" y1="276.40" x2="754.89" y2="273.80" stroke="#111" stroke-width="1.1"/>
<line x1="756.34" y1="276.40" x2="756.34" y2="273.80" stroke="#111" stroke-width="1.1"/>
<line x1="757.77" y1="276.40" x2="757.77" y2="273.80" stroke="#111" stroke-width="1.1"/>
<line x1="759.19" y1="276.40" x2="759.19" y2="273.80" stroke="#111" stroke-width="1.1"/>
<line x1="760.59" y1="276.40" x2="760.59" y2="271.40" stroke="#111" stroke-width="1.2"/>
<text transform="translate(760.59,291.00) scale(1,1.12)" font-size="10.8" text-anchor="middle" fill="#222">50</text>
<polyline points="471.89,206.40 558.80,192.50 609.64,180.80 645.71,159.70 673.69,142.90 696.54,131.40 715.87,120.60 732.61,115.00 747.38,109.10 760.59,97.40" fill="none" stroke="#ff5800" stroke-width="2" stroke-linejoin="round"/>
<polyline points="471.89,228.60 558.80,218.40 609.64,207.00 645.71,199.40 673.69,186.00 696.54,171.50 715.87,161.20 732.61,154.90 747.38,143.40 760.59,136.30" fill="none" stroke="#5af000" stroke-width="2" stroke-linejoin="round"/>
<polyline points="471.89,239.20 558.80,228.80 609.64,220.00 645.71,214.20 673.69,208.90 696.54,203.90 715.87,192.70 732.61,185.10 747.38,176.60 760.59,170.70" fill="none" stroke="#08c8ff" stroke-width="2" stroke-linejoin="round"/>
<polyline points="471.89,272.50 558.80,260.40 609.64,254.90 645.71,248.30 673.69,244.30 696.54,240.40 715.87,236.30 732.61,228.90 747.38,220.50 760.59,211.60" fill="none" stroke="#4600ff" stroke-width="2" stroke-linejoin="round"/>
<polygon points="466.89,203.47 476.89,203.47 471.89,212.27" fill="#ff5800"/>
<polygon points="553.80,189.57 563.80,189.57 558.80,198.37" fill="#ff5800"/>
<polygon points="604.64,177.87 614.64,177.87 609.64,186.67" fill="#ff5800"/>
<polygon points="640.71,156.77 650.71,156.77 645.71,165.57" fill="#ff5800"/>
<polygon points="668.69,139.97 678.69,139.97 673.69,148.77" fill="#ff5800"/>
<polygon points="691.54,128.47 701.54,128.47 696.54,137.27" fill="#ff5800"/>
<polygon points="710.87,117.67 720.87,117.67 715.87,126.47" fill="#ff5800"/>
<polygon points="727.61,112.07 737.61,112.07 732.61,120.87" fill="#ff5800"/>
<polygon points="742.38,106.17 752.38,106.17 747.38,114.97" fill="#ff5800"/>
<polygon points="755.59,94.47 765.59,94.47 760.59,103.27" fill="#ff5800"/>
<polygon points="471.89,222.87 476.89,231.47 466.89,231.47" fill="#5af000"/>
<polygon points="558.80,212.67 563.80,221.27 553.80,221.27" fill="#5af000"/>
<polygon points="609.64,201.27 614.64,209.87 604.64,209.87" fill="#5af000"/>
<polygon points="645.71,193.67 650.71,202.27 640.71,202.27" fill="#5af000"/>
<polygon points="673.69,180.27 678.69,188.87 668.69,188.87" fill="#5af000"/>
<polygon points="696.54,165.77 701.54,174.37 691.54,174.37" fill="#5af000"/>
<polygon points="715.87,155.47 720.87,164.07 710.87,164.07" fill="#5af000"/>
<polygon points="732.61,149.17 737.61,157.77 727.61,157.77" fill="#5af000"/>
<polygon points="747.38,137.67 752.38,146.27 742.38,146.27" fill="#5af000"/>
<polygon points="760.59,130.57 765.59,139.17 755.59,139.17" fill="#5af000"/>
<circle cx="471.89" cy="239.20" r="4.4" fill="#08c8ff"/>
<circle cx="558.80" cy="228.80" r="4.4" fill="#08c8ff"/>
<circle cx="609.64" cy="220.00" r="4.4" fill="#08c8ff"/>
<circle cx="645.71" cy="214.20" r="4.4" fill="#08c8ff"/>
<circle cx="673.69" cy="208.90" r="4.4" fill="#08c8ff"/>
<circle cx="696.54" cy="203.90" r="4.4" fill="#08c8ff"/>
<circle cx="715.87" cy="192.70" r="4.4" fill="#08c8ff"/>
<circle cx="732.61" cy="185.10" r="4.4" fill="#08c8ff"/>
<circle cx="747.38" cy="176.60" r="4.4" fill="#08c8ff"/>
<circle cx="760.59" cy="170.70" r="4.4" fill="#08c8ff"/>
<rect x="467.89" y="268.50" width="8" height="8" fill="#4600ff"/>
<rect x="554.80" y="256.40" width="8" height="8" fill="#4600ff"/>
<rect x="605.64" y="250.90" width="8" height="8" fill="#4600ff"/>
<rect x="641.71" y="244.30" width="8" height="8" fill="#4600ff"/>
<rect x="669.69" y="240.30" width="8" height="8" fill="#4600ff"/>
<rect x="692.54" y="236.40" width="8" height="8" fill="#4600ff"/>
<rect x="711.87" y="232.30" width="8" height="8" fill="#4600ff"/>
<rect x="728.61" y="224.90" width="8" height="8" fill="#4600ff"/>
<rect x="743.38" y="216.50" width="8" height="8" fill="#4600ff"/>
<rect x="756.59" y="207.60" width="8" height="8" fill="#4600ff"/>
<rect x="447.50" y="14.50" width="65.50" height="61.50" fill="#fff" stroke="#b4b4b4" stroke-width="1"/>
<line x1="449.20" y1="22.90" x2="476.80" y2="22.90" stroke="#4600ff" stroke-width="2"/>
<rect x="459.00" y="18.90" width="8" height="8" fill="#4600ff"/>
<text transform="translate(483.70,27.60) scale(1,1.08)" font-size="13.5" fill="#222">20</text>
<circle cx="499.70" cy="18.60" r="0.95" fill="none" stroke="#222" stroke-width="0.7"/>
<text x="500.60" y="27.60" font-size="15.5" textLength="8.8" lengthAdjust="spacingAndGlyphs" fill="#222">C</text>
<line x1="449.20" y1="37.50" x2="476.80" y2="37.50" stroke="#08c8ff" stroke-width="2"/>
<circle cx="463.00" cy="37.50" r="4.4" fill="#08c8ff"/>
<text transform="translate(483.70,42.20) scale(1,1.08)" font-size="13.5" fill="#222">40</text>
<circle cx="499.70" cy="33.20" r="0.95" fill="none" stroke="#222" stroke-width="0.7"/>
<text x="500.60" y="42.20" font-size="15.5" textLength="8.8" lengthAdjust="spacingAndGlyphs" fill="#222">C</text>
<line x1="449.20" y1="52.80" x2="476.80" y2="52.80" stroke="#5af000" stroke-width="2"/>
<polygon points="463.00,47.07 468.00,55.67 458.00,55.67" fill="#5af000"/>
<text transform="translate(483.70,57.50) scale(1,1.08)" font-size="13.5" fill="#222">60</text>
<circle cx="499.70" cy="48.50" r="0.95" fill="none" stroke="#222" stroke-width="0.7"/>
<text x="500.60" y="57.50" font-size="15.5" textLength="8.8" lengthAdjust="spacingAndGlyphs" fill="#222">C</text>
<line x1="449.20" y1="67.70" x2="476.80" y2="67.70" stroke="#ff5800" stroke-width="2"/>
<polygon points="458.00,64.77 468.00,64.77 463.00,73.57" fill="#ff5800"/>
<text transform="translate(483.70,72.40) scale(1,1.08)" font-size="13.5" fill="#222">80</text>
<circle cx="499.70" cy="63.40" r="0.95" fill="none" stroke="#222" stroke-width="0.7"/>
<text x="500.60" y="72.40" font-size="15.5" textLength="8.8" lengthAdjust="spacingAndGlyphs" fill="#222">C</text>
<path d="M443.80,276.40 V12.10 H771.90 V276.40 Z" fill="none" stroke="#111" stroke-width="1.8"/>
<text x="607.85" y="313.40" font-size="13.6" text-anchor="middle" fill="#222"><tspan font-style="italic">E</tspan>(kV/mm)</text>
<text transform="translate(413.70,167.40) rotate(-90)" font-size="14.2" textLength="45.5" lengthAdjust="spacingAndGlyphs" fill="#222"><tspan font-style="italic">J</tspan>(A/m<tspan font-size="9.5" dy="-5.5">2</tspan><tspan dy="5.5">)</tspan></text>
<text x="587.70" y="349.8" font-size="18.5" text-anchor="middle" fill="#111">XLPE-g-BMIE</text>
<text x="220.9" y="61.2" font-size="11.5" font-weight="bold" textLength="46.4" lengthAdjust="spacingAndGlyphs" fill="#ff0000">30kV/mm</text>
<line x1="267.5" y1="57.9" x2="282.80" y2="58.13" stroke="#ff0000" stroke-width="0.6"/><polygon points="287.8,58.2 282.77,60.33 282.83,55.93" fill="#ff0000"/>
<text x="302" y="104.5" font-size="11.5" font-weight="bold" textLength="46.4" lengthAdjust="spacingAndGlyphs" fill="#0aee0a">40kV/mm</text>
<line x1="329.7" y1="96.8" x2="332.28" y2="83.11" stroke="#0aee0a" stroke-width="0.6"/><polygon points="333.2,78.2 334.44,83.52 330.11,82.71" fill="#0aee0a"/>
<text x="186.5" y="222.1" font-size="11.5" font-weight="bold" textLength="46.4" lengthAdjust="spacingAndGlyphs" fill="#58c2ff">10kV/mm</text>
<line x1="185" y1="218.3" x2="171.00" y2="218.15" stroke="#58c2ff" stroke-width="0.6"/><polygon points="166,218.1 171.02,215.95 170.98,220.35" fill="#58c2ff"/>
<text x="181.5" y="261.7" font-size="11.5" font-weight="bold" textLength="46.4" lengthAdjust="spacingAndGlyphs" fill="#1400f0">10kV/mm</text>
<line x1="181" y1="257.9" x2="169.89" y2="255.54" stroke="#1400f0" stroke-width="0.6"/><polygon points="165,254.5 170.35,253.39 169.43,257.69" fill="#1400f0"/>
<text x="533.8" y="164.0" font-size="11.5" font-weight="bold" textLength="46.4" lengthAdjust="spacingAndGlyphs" fill="#ff0000">15kV/mm</text>
<line x1="578.7" y1="164.8" x2="598.47" y2="174.08" stroke="#ff0000" stroke-width="0.6"/><polygon points="603,176.2 597.54,176.07 599.41,172.08" fill="#ff0000"/>
<text x="581.4" y="240.6" font-size="11.5" font-weight="bold" textLength="46.4" lengthAdjust="spacingAndGlyphs" fill="#0aee0a">20kV/mm</text>
<line x1="617.5" y1="233" x2="642.85" y2="206.42" stroke="#0aee0a" stroke-width="0.6"/><polygon points="646.3,202.8 644.44,207.94 641.26,204.90" fill="#0aee0a"/>
<text x="653.7" y="231.5" font-size="11.5" font-weight="bold" textLength="46.4" lengthAdjust="spacingAndGlyphs" fill="#58c2ff">30kV/mm</text>
<line x1="688" y1="220" x2="692.56" y2="211.86" stroke="#58c2ff" stroke-width="0.6"/><polygon points="695,207.5 694.48,212.94 690.64,210.79" fill="#58c2ff"/>
<text x="691.2" y="262.7" font-size="11.5" font-weight="bold" textLength="46.4" lengthAdjust="spacingAndGlyphs" fill="#1400f0">35kV/mm</text>
<line x1="716" y1="251.5" x2="716.00" y2="246.80" stroke="#1400f0" stroke-width="0.6"/><polygon points="716,241.8 718.20,246.80 713.80,246.80" fill="#1400f0"/>
</svg>
</body></html>
